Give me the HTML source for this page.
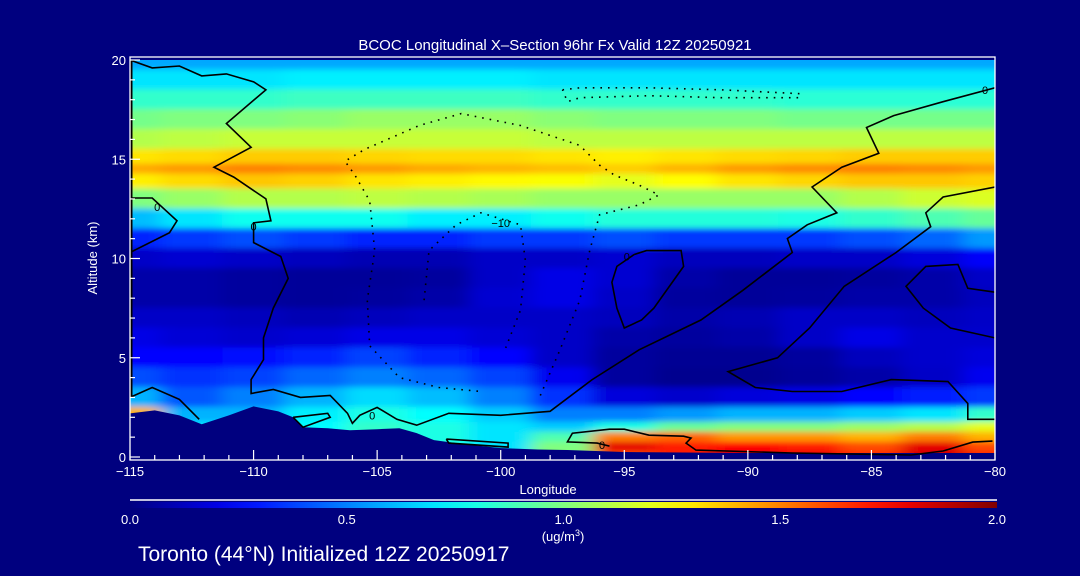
<!DOCTYPE html>
<html><head><meta charset="utf-8">
<style>
html,body{margin:0;padding:0;background:#00007f;}
svg{display:block;font-family:"Liberation Sans","DejaVu Sans",sans-serif;}
</style></head>
<body>
<svg id="chart" width="1080" height="576" viewBox="0 0 1080 576" xmlns="http://www.w3.org/2000/svg">
<defs>
<clipPath id="plotclip"><rect x="130" y="60" width="865" height="397"/></clipPath>
<filter id="smooth" x="-5%" y="-5%" width="110%" height="110%"><feGaussianBlur stdDeviation="9 3"/></filter>
<linearGradient id="cbgrad" x1="0" x2="1" y1="0" y2="0"></linearGradient>
</defs>
<rect width="1080" height="576" fill="#00007f"/>
<g id="heat" clip-path="url(#plotclip)"><g id="cells" filter="url(#smooth)"></g></g>
<g id="terrain-g" clip-path="url(#plotclip)"></g>
<g id="contours" clip-path="url(#plotclip)"></g>
<g id="axes"></g>
<text x="555" y="50" fill="#fff" font-size="15" text-anchor="middle">BCOC Longitudinal X–Section 96hr  Fx Valid 12Z 20250921</text>
<text x="548" y="494" fill="#fff" font-size="13" text-anchor="middle">Longitude</text>
<text transform="translate(97,258) rotate(-90)" fill="#fff" font-size="13" text-anchor="middle">Altitude (km)</text>
<line x1="130" y1="500" x2="997" y2="500" stroke="#fff" stroke-width="1.5"/>
<rect x="130" y="502" width="867" height="6" fill="url(#cbgrad)"/>
<g id="cblabels"></g>
<text x="563" y="541" fill="#fff" font-size="13" text-anchor="middle">(ug/m<tspan font-size="9" dy="-5">3</tspan><tspan dy="5">)</tspan></text>
<text x="138" y="561" fill="#fff" font-size="21">Toronto (44°N) Initialized 12Z 20250917</text>
</svg>
<script>
const lons=[-115,-112.5,-110,-107.5,-105,-102.5,-100,-97.5,-95,-92.5,-90,-87.5,-85,-82.5,-80];
const alts=[20,19,18,17,16,15,14.5,14,13,12,11,10,9,8,7,6,5,4,3,2,1.5,1,0.5,0];
const conc=[
[.58,.58,.58,.58,.58,.58,.58,.58,.58,.58,.58,.58,.58,.58,.58],
[.7,.7,.7,.72,.72,.72,.72,.7,.7,.7,.7,.7,.7,.7,.7],
[.85,.85,.85,.87,.87,.87,.87,.85,.85,.85,.85,.83,.83,.83,.83],
[.98,1.0,1.0,1.02,1.05,1.05,1.05,1.02,1.0,1.0,1.0,.98,.98,.98,.98],
[1.1,1.12,1.14,1.14,1.14,1.14,1.14,1.12,1.12,1.12,1.12,1.12,1.12,1.12,1.12],
[1.3,1.32,1.35,1.35,1.33,1.32,1.32,1.3,1.28,1.3,1.32,1.33,1.35,1.35,1.35],
[1.42,1.45,1.5,1.48,1.45,1.42,1.4,1.38,1.35,1.4,1.45,1.48,1.5,1.48,1.45],
[1.28,1.32,1.36,1.34,1.3,1.28,1.26,1.24,1.2,1.25,1.3,1.33,1.36,1.36,1.34],
[1.0,1.05,1.1,1.1,1.12,1.1,1.08,1.05,1.05,1.05,1.05,1.05,1.1,1.15,1.18],
[.62,.7,.78,.78,.78,.72,.72,.78,.82,.82,.82,.8,.85,.9,.95],
[.32,.36,.4,.36,.32,.32,.36,.36,.4,.36,.36,.36,.4,.45,.55],
[.14,.16,.14,.12,.1,.1,.14,.14,.16,.12,.12,.14,.14,.18,.24],
[.08,.08,.06,.05,.05,.06,.14,.2,.16,.08,.05,.05,.06,.08,.14],
[.08,.08,.06,.05,.06,.08,.16,.2,.14,.06,.05,.06,.08,.08,.12],
[.14,.14,.12,.1,.12,.14,.14,.14,.12,.08,.1,.14,.14,.12,.14],
[.2,.17,.15,.17,.2,.2,.17,.14,.08,.06,.08,.14,.2,.15,.15],
[.25,.25,.27,.32,.38,.32,.26,.14,.06,.04,.04,.06,.12,.15,.18],
[.4,.35,.38,.45,.5,.45,.38,.22,.06,.03,.03,.05,.08,.14,.22],
[.6,.42,.5,.6,.68,.62,.5,.35,.18,.15,.18,.2,.25,.3,.36],
[1.4,.6,.6,.72,.8,.75,.65,.5,.5,.55,.6,.6,.65,.7,.85],
[1.0,.7,.7,.75,.85,.8,.7,.65,.8,.95,1.0,1.0,1.05,1.1,1.2],
[.8,.7,.7,.75,.85,.8,.7,.9,1.5,1.55,1.45,1.45,1.4,1.5,1.4],
[.8,.7,.7,.75,.85,.8,.7,1.0,1.8,1.7,1.75,1.7,1.6,1.8,1.6],
[.8,.7,.7,.75,.85,.8,.7,1.0,1.6,1.7,1.8,1.8,1.7,1.85,1.7]];
const terrainLon=[-115,-114,-113,-112.1,-111,-110,-109,-108.4,-108,-107,-106.1,-105,-104.1,-103.4,-102.7,-101.5,-100,-98.5,-97.3,-95,-90,-85,-80];
const terrainAlt=[2.2,2.35,2.1,1.65,2.1,2.55,2.3,2.0,1.5,1.45,1.35,1.4,1.45,1.2,0.85,0.65,0.45,0.38,0.35,0.25,0.2,0.2,0.2];
const xTicks=[-115,-110,-105,-100,-95,-90,-85,-80];
const xTickLabels=["−115","−110","−105","−100","−95","−90","−85","−80"];
const yTicks=[0,5,10,15,20];
const cbTicks=[0,0.5,1.0,1.5,2.0];
const cbTickLabels=["0.0","0.5","1.0","1.5","2.0"];
const contourMainLon=[-115,-114.1,-113,-112.1,-111.1,-110,-109.5,-111.1,-110.1,-111.6,-110.8,-109.5,-109.3,-110,-110,-108.9,-108.6,-109.2,-109.6,-109.6,-110.1,-110.1,-109.2,-108.1,-106.9,-106.2,-106,-105.7,-105,-104.2,-103.4,-102.1,-100,-98,-96.3,-94.4,-91.9,-90.2,-88.2,-88.4,-87.6,-86.4,-87.4,-86.2,-84.7,-85.2,-84.1,-82.1,-80];
const contourMainAlt=[20,19.6,19.7,19.2,19.3,18.9,18.5,16.8,15.6,14.6,14.1,13.0,11.9,11.8,10.8,10.1,9.0,7.5,6,4.9,3.9,3.2,3.4,3.0,3.1,2.2,1.7,2.1,2.5,1.9,1.6,2.2,2.1,2.3,3.9,5.4,6.9,8.4,10.3,11.0,11.7,12.3,13.6,14.6,15.3,16.6,17.2,17.9,18.6];
const contourR2Lon=[-80,-82.1,-82.8,-82.6,-84,-86.1,-87.5,-88.8,-90.8,-89.7,-88.2,-86.2,-84.2,-81.9,-81.1,-81.1,-80];
const contourR2Alt=[13.6,13.1,12.3,11.6,10.3,8.6,6.5,5.0,4.3,3.5,3.3,3.3,3.9,3.8,2.7,1.9,1.9];
const contourR3Lon=[-80,-81.1,-81.5,-82.8,-83.6,-82.9,-81.8,-80];
const contourR3Alt=[8.3,8.5,9.7,9.6,8.6,7.5,6.5,6.0];
const contourMidLon=[-94.6,-94.1,-92.7,-92.6,-93.8,-94.3,-95,-95.3,-95.5,-95.3,-94.6];
const contourMidAlt=[10.2,10.4,10.4,9.6,7.5,6.9,6.5,7.5,8.8,9.6,10.2];
const contourLeftLon=[-115,-114.1,-113.1,-113.4,-115];
const contourLeftAlt=[13.05,13.05,11.9,11.3,10.3];
const contourLLLon=[-115,-114.1,-113,-112.2];
const contourLLAlt=[3.0,3.5,2.9,1.9];
const contourParLon=[-108.4,-107,-106.9,-108,-108.4];
const contourParAlt=[2.0,2.2,2.0,1.5,2.0];
const contourTinyLon=[-102.2,-99.7,-99.7,-102.1,-102.2];
const contourTinyAlt=[0.9,0.7,0.5,0.7,0.9];
const contourBRLon=[-95.6,-96.1,-97.3,-97.1,-95.6,-95,-94,-92.6,-92.3,-92.5,-92.1,-88.2,-83.4,-82.1,-80.9,-80.1];
const contourBRAlt=[0.55,0.7,0.76,1.2,1.4,1.4,1.1,1.05,0.95,0.7,0.35,0.2,0.1,0.3,0.75,0.8];
const dotOuterLon=[-98.4,-97.6,-96.8,-96.4,-96,-94.4,-93.6,-94.4,-95.4,-96,-96.8,-99.2,-101.6,-103.3,-105.5,-106.3,-105.9,-105.3,-105.1,-105.4,-105.3,-104.1,-102.5,-100.8];
const dotOuterAlt=[3.1,5.4,7.9,10.4,12.2,12.7,13.2,13.7,14.2,14.7,15.7,16.7,17.3,16.7,15.5,14.9,14.2,12.9,10.4,7.9,5.6,4.0,3.5,3.3];
const dotInnerLon=[-103.1,-102.9,-101.8,-100.8,-99.2,-99,-99.2,-99.8];
const dotInnerAlt=[7.9,10.4,11.7,12.3,11.7,9.9,7.4,5.5];
const dotTopLon=[-97.5,-96.8,-94,-91.1,-87.9,-87.9,-91.1,-94,-96.8,-97.3,-97.5];
const dotTopAlt=[18.5,18.6,18.6,18.5,18.3,18.1,18.1,18.2,18.1,17.9,18.5];

const NS='http://www.w3.org/2000/svg';
const X0=130,X1=995,Y0=457,Y1=60;
function xS(lon){return X0+(lon+115)/35*(X1-X0);}
function yS(a){return Y0-a/20*(Y0-Y1);}
function jet(v){let t=Math.max(0,Math.min(1,v/2));
 function c(x){return Math.max(0,Math.min(1,x));}
 const r=c(1.5-Math.abs(4*t-3)),g=c(1.5-Math.abs(4*t-2)),b=c(1.5-Math.abs(4*t-1));
 return 'rgb('+Math.round(r*255)+','+Math.round(g*255)+','+Math.round(b*255)+')';}
function mk(tag,at){const e=document.createElementNS(NS,tag);for(const k in at)e.setAttribute(k,at[k]);return e;}

const cells=document.getElementById('cells');
function edges(arr,f){const e=[];for(let i=0;i<arr.length;i++){
 const lo=i>0?(arr[i-1]+arr[i])/2:arr[i]-(arr[i+1]-arr[i])*2.5;
 const hi=i<arr.length-1?(arr[i]+arr[i+1])/2:arr[i]+(arr[i]-arr[i-1])*2.5;
 e.push([f(lo),f(hi)]);}return e;}
const xe=edges(lons,xS), ye=edges(alts,yS);
for(let r=0;r<alts.length;r++){for(let c=0;c<lons.length;c++){
 const x=Math.min(xe[c][0],xe[c][1]),w=Math.abs(xe[c][1]-xe[c][0]);
 const y=Math.min(ye[r][0],ye[r][1]),h=Math.abs(ye[r][1]-ye[r][0]);
 const rc=mk('rect',{x:x-0.5,y:y-0.5,width:w+1,height:h+1,fill:jet(conc[r][c])});
 
 
 cells.appendChild(rc);}}

let tp='M'+xS(terrainLon[0])+','+(Y0+10);
for(let i=0;i<terrainLon.length;i++)tp+=' L'+xS(terrainLon[i])+','+yS(terrainAlt[i]);
tp+=' L'+xS(terrainLon[terrainLon.length-1])+','+(Y0+10)+'Z';
const terr=mk('path',{d:tp,fill:'#00007f'});


document.getElementById('terrain-g').appendChild(terr);

const cg=document.getElementById('contours');
function line(lo,al,dotted,name){let d='';for(let i=0;i<lo.length;i++)d+=(i?' L':'M')+xS(lo[i]).toFixed(1)+','+yS(al[i]).toFixed(1);
 const p=mk('path',{d:d,fill:'none',stroke:'#000','stroke-width':1.6});
 if(dotted)p.setAttribute('stroke-dasharray','1.6 6');
 
 
 cg.appendChild(p);}
line(contourMainLon,contourMainAlt,false,'contour-zero-main');
line(contourR2Lon,contourR2Alt,false,'contour-zero-east');
line(contourR3Lon,contourR3Alt,false,'contour-zero-east-small');
line(contourMidLon,contourMidAlt,false,'contour-zero-mid');
line(contourLeftLon,contourLeftAlt,false,'contour-zero-west');
line(contourLLLon,contourLLAlt,false,'contour-zero-west-low');
line(contourParLon,contourParAlt,false,'contour-zero-small');
line(contourTinyLon,contourTinyAlt,false,'contour-zero-tiny');
line(contourBRLon,contourBRAlt,false,'contour-zero-surface');
line(dotOuterLon,dotOuterAlt,true,'contour-negative-outer');
line(dotInnerLon,dotInnerAlt,true,'contour-negative-inner');
line(dotTopLon,dotTopAlt,true,'contour-negative-top');
const clabels=[[-113.9,12.6,'0'],[-110,11.6,'0'],[-105.2,2.1,'0'],[-94.9,10.1,'0'],[-95.9,0.6,'0'],[-80.4,18.5,'0'],[-100,11.8,'−10']];
clabels.forEach(l=>{const t=mk('text',{x:xS(l[0]),y:yS(l[1])+4,fill:'#000','font-size':11,'text-anchor':'middle'});t.textContent=l[2];
 
 
 cg.appendChild(t);});

const ax=document.getElementById('axes');
const el=mk('line',{x1:X0+1,y1:Y1,x2:X0+1,y2:yS(3),stroke:'#000','stroke-width':3});


ax.appendChild(el);
const fr=mk('rect',{x:X0,y:Y1-3,width:X1-X0,height:Y0-Y1+6,fill:'none',stroke:'#fff','stroke-width':1.3});


ax.appendChild(fr);
for(let l=-115;l<=-80;l++){const major=(l%5===0);
 const t=mk('line',{x1:xS(l),x2:xS(l),y1:Y0+3,y2:Y0+3-(major?10:5),stroke:'#fff','stroke-width':1.2});
 
 
 ax.appendChild(t);}
xTicks.forEach((v,i)=>{const t=mk('text',{x:xS(v),y:Y0+19,fill:'#fff','font-size':13,'text-anchor':'middle'});t.textContent=xTickLabels[i];
 
 
 ax.appendChild(t);});
for(let a=0;a<=20;a++){const major=(a%5===0);
 const t=mk('line',{x1:X0,x2:X0+(major?10:5),y1:yS(a),y2:yS(a),stroke:'#fff','stroke-width':1.2});
 
 
 ax.appendChild(t);}
yTicks.forEach(v=>{const t=mk('text',{x:X0-4,y:yS(v)+5,fill:'#fff','font-size':13,'text-anchor':'end'});t.textContent=String(v);
 
 
 ax.appendChild(t);});
const g=document.getElementById('cbgrad');
for(let i=0;i<=20;i++){const s=mk('stop',{offset:(i/20),'stop-color':jet(i/10)});g.appendChild(s);}
const cbl=document.getElementById('cblabels');
cbTicks.forEach((v,i)=>{const t=mk('text',{x:130+v/2*867,y:524,fill:'#fff','font-size':13,'text-anchor':'middle'});t.textContent=cbTickLabels[i];
 
 
 cbl.appendChild(t);});
</script>
</body></html>
